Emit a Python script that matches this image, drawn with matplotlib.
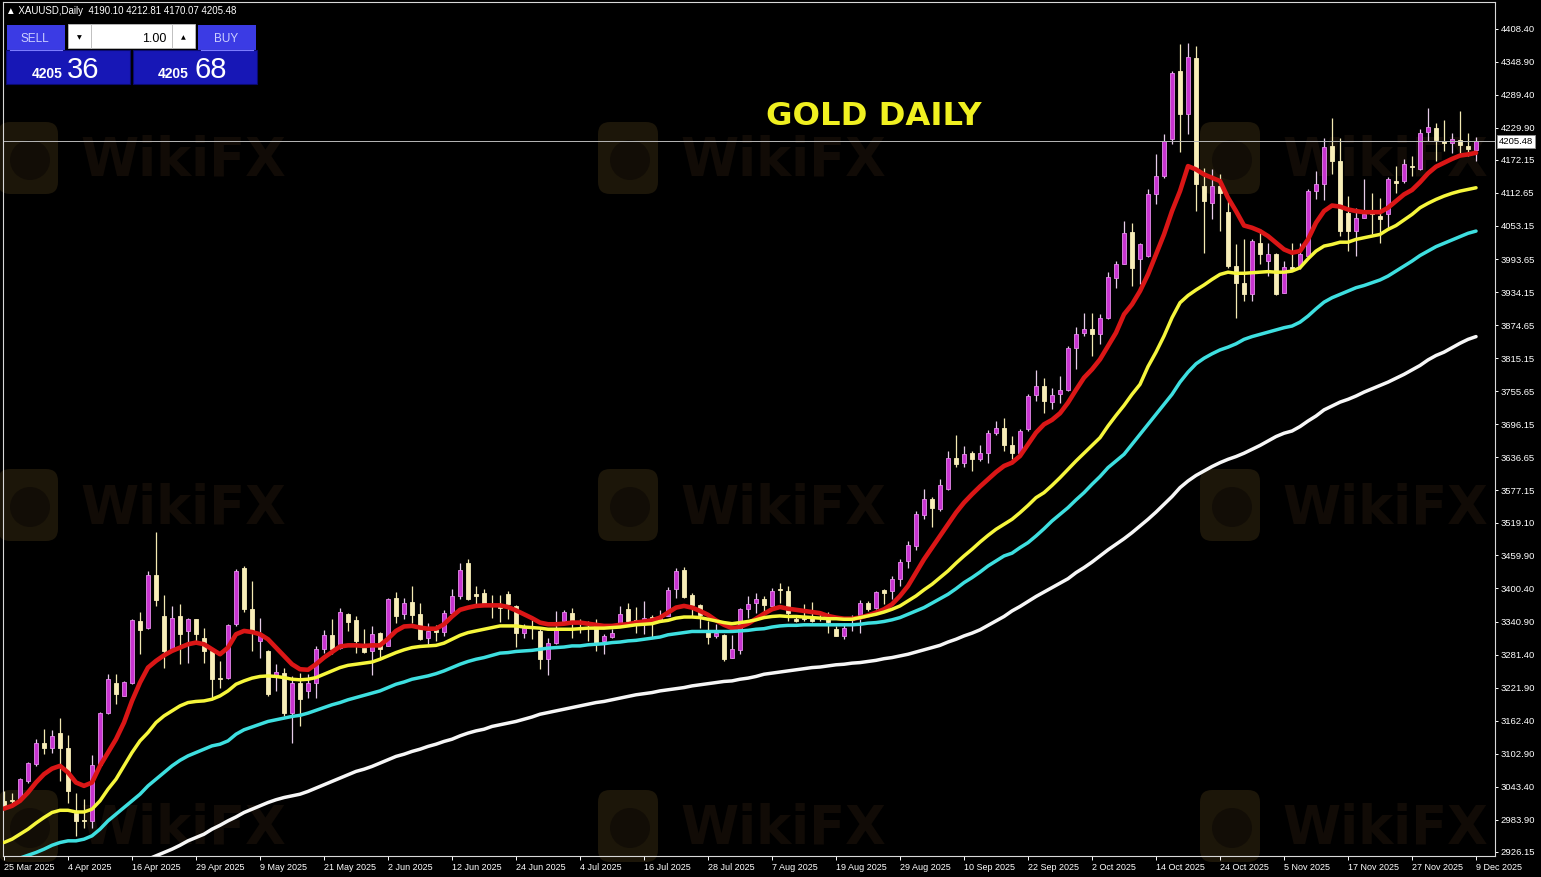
import numpy as np
import matplotlib
matplotlib.use("Agg")
import matplotlib.pyplot as plt
from matplotlib.patches import FancyBboxPatch, Rectangle, Circle
import matplotlib.transforms as mtransforms

# ---------------- data ----------------
opens = [3018, 3018.5, 3021, 3054, 3084, 3123, 3114, 3140, 3114, 2997,
         2983, 2982, 3082, 3176, 3230, 3207, 3230, 3342, 3330, 3424,
         3350, 3290, 3350, 3324, 3345, 3312, 3288, 3240, 3240, 3336,
         3438, 3364, 3306, 3288, 3243, 3249, 3177, 3231, 3216, 3230,
         3291, 3316, 3294, 3354, 3344, 3294, 3288, 3320, 3297, 3384,
         3354, 3376, 3354, 3312, 3326, 3322, 3357, 3386, 3447, 3390,
         3392, 3372, 3372, 3390, 3369, 3321, 3333, 3323, 3273, 3303,
         3341, 3357, 3342, 3339, 3339, 3305, 3313, 3336, 3363, 3343,
         3337, 3349, 3341, 3351, 3399, 3433, 3389, 3371, 3323, 3315,
         3317, 3275, 3289, 3363, 3374, 3381, 3369, 3400, 3396, 3346,
         3348, 3348, 3349, 3346, 3328, 3314, 3344, 3352, 3374, 3366,
         3398, 3396, 3417, 3450, 3477, 3532, 3562, 3544, 3580, 3636,
         3626, 3645, 3633, 3644, 3681, 3690, 3658, 3644, 3687, 3748,
         3765, 3736, 3751, 3757, 3834, 3861, 3867, 3858, 3888, 3960,
         3985, 4042, 3994, 4000, 4111, 4143, 4209, 4333, 4255, 4356,
         4125, 4095, 4126, 4078, 3982, 3951, 3931, 4023, 3990, 4002,
         3933, 3979, 3981, 4000, 4116, 4128, 4198, 4171, 4077, 4044,
         4068, 4077, 4072, 4074, 4135, 4134, 4162, 4156, 4222, 4230,
         4206, 4203, 4208, 4198, 4190.10]
highs = [3036, 3032, 3060, 3088, 3129, 3148, 3146, 3168, 3136, 3033,
         3022, 3100, 3178, 3246, 3246, 3234, 3345, 3358, 3432, 3502,
         3388, 3368, 3372, 3348, 3346, 3330, 3290, 3270, 3336, 3435,
         3441, 3414, 3348, 3290, 3264, 3258, 3243, 3249, 3246, 3296,
         3326, 3346, 3366, 3357, 3350, 3327, 3332, 3322, 3384, 3394,
         3384, 3405, 3375, 3339, 3334, 3362, 3399, 3447, 3453, 3405,
         3400, 3388, 3388, 3396, 3371, 3336, 3343, 3330, 3311, 3360,
         3361, 3366, 3345, 3342, 3345, 3318, 3327, 3369, 3375, 3367,
         3377, 3353, 3361, 3403, 3437, 3439, 3393, 3373, 3341, 3336,
         3319, 3317, 3365, 3387, 3393, 3386, 3402, 3410, 3405, 3351,
         3372, 3376, 3357, 3358, 3333, 3338, 3352, 3380, 3378, 3396,
         3399, 3423, 3454, 3486, 3540, 3579, 3566, 3598, 3648, 3676,
         3657, 3648, 3658, 3686, 3702, 3708, 3675, 3687, 3750, 3793,
         3780, 3762, 3783, 3837, 3871, 3897, 3897, 3894, 3970, 3991,
         4062, 4059, 4023, 4119, 4182, 4219, 4333, 4381, 4383, 4377,
         4158, 4155, 4146, 4098, 4021, 4030, 4029, 4047, 4023, 4004,
         3990, 4022, 4023, 4119, 4152, 4212, 4248, 4212, 4107, 4086,
         4137, 4112, 4104, 4142, 4161, 4173, 4179, 4228, 4266, 4238,
         4244, 4221, 4260, 4220, 4212.81]
lows = [3003, 3009, 3018, 3051, 3081, 3102, 3105, 3054, 3015, 2955,
        2970, 2970, 3081, 3174, 3192, 3207, 3228, 3282, 3327, 3368,
        3258, 3288, 3264, 3267, 3305, 3266, 3201, 3222, 3238, 3333,
        3358, 3288, 3276, 3207, 3216, 3171, 3122, 3153, 3204, 3204,
        3285, 3282, 3291, 3324, 3285, 3285, 3244, 3276, 3297, 3339,
        3345, 3339, 3307, 3300, 3306, 3315, 3354, 3381, 3380, 3372,
        3369, 3348, 3340, 3345, 3295, 3311, 3309, 3255, 3245, 3301,
        3336, 3311, 3321, 3306, 3287, 3283, 3312, 3336, 3336, 3321,
        3318, 3313, 3341, 3351, 3384, 3383, 3351, 3330, 3301, 3311,
        3269, 3275, 3282, 3347, 3357, 3357, 3366, 3374, 3342, 3340,
        3342, 3340, 3342, 3321, 3314, 3310, 3324, 3321, 3360, 3364,
        3372, 3381, 3404, 3438, 3470, 3526, 3512, 3540, 3578, 3620,
        3620, 3612, 3630, 3627, 3676, 3648, 3634, 3642, 3684, 3738,
        3717, 3723, 3735, 3756, 3795, 3855, 3819, 3840, 3885, 3942,
        3984, 3945, 3949, 3997, 4092, 4140, 4200, 4186, 4218, 4081,
        4004, 4065, 4044, 3978, 3888, 3918, 3918, 3984, 3964, 3928,
        3932, 3974, 3975, 3999, 4101, 4100, 4147, 4035, 4008, 3999,
        4068, 4038, 4023, 4046, 4113, 4131, 4143, 4154, 4206, 4170,
        4188, 4184, 4185, 4180, 4170.07]
closes = [3010, 3018, 3057, 3086, 3123, 3114, 3134, 3114, 3036, 2982,
          2981, 3082, 3176, 3237, 3210, 3232, 3344, 3326, 3424, 3380,
          3288, 3348, 3318, 3345, 3318, 3288, 3237, 3237, 3334, 3432,
          3363, 3321, 3318, 3210, 3250, 3177, 3231, 3201, 3230, 3291,
          3316, 3291, 3358, 3340, 3306, 3286, 3318, 3291, 3382, 3351,
          3374, 3352, 3309, 3324, 3322, 3356, 3386, 3434, 3382, 3387,
          3374, 3369, 3366, 3372, 3321, 3329, 3331, 3273, 3303, 3325,
          3358, 3341, 3340, 3336, 3303, 3315, 3321, 3355, 3341, 3336,
          3347, 3341, 3351, 3397, 3432, 3385, 3371, 3353, 3313, 3321,
          3273, 3291, 3363, 3373, 3381, 3370, 3396, 3398, 3357, 3342,
          3345, 3342, 3347, 3340, 3315, 3330, 3346, 3374, 3364, 3394,
          3393, 3417, 3448, 3478, 3534, 3561, 3546, 3586, 3636, 3624,
          3642, 3633, 3644, 3680, 3690, 3659, 3644, 3684, 3747, 3765,
          3738, 3748, 3758, 3834, 3859, 3867, 3858, 3888, 3961, 3985,
          4041, 3978, 4020, 4111, 4143, 4207, 4329, 4254, 4357, 4128,
          4098, 4126, 4113, 3981, 3951, 3930, 4026, 4002, 4003, 3930,
          3979, 3975, 4002, 4116, 4128, 4195, 4171, 4044, 4045, 4068,
          4074, 4075, 4066, 4137, 4131, 4164, 4160, 4221, 4231, 4208,
          4203, 4209, 4199, 4192, 4205.48]

ma_red = [3004, 3009, 3018, 3033, 3051, 3066, 3076, 3081, 3069, 3051,
          3045, 3051, 3081, 3105, 3129, 3159, 3198, 3231, 3258, 3270,
          3280, 3288, 3294, 3300, 3303, 3300, 3291, 3282, 3294, 3318,
          3324, 3322, 3318, 3309, 3294, 3279, 3264, 3255, 3254, 3264,
          3276, 3286, 3296, 3298, 3298, 3297, 3298, 3298, 3310, 3324,
          3332, 3333, 3330, 3328, 3328, 3336, 3350, 3362, 3366, 3369,
          3370, 3370, 3370, 3367, 3361, 3354, 3347, 3339, 3336, 3336,
          3337, 3339, 3339, 3337, 3335, 3333, 3333, 3335, 3336, 3339,
          3341, 3343, 3348, 3357, 3366, 3369, 3366, 3360, 3353, 3343,
          3335, 3329, 3331, 3337, 3346, 3355, 3363, 3367, 3364, 3362,
          3360, 3358, 3356, 3351, 3348, 3346, 3346, 3348, 3352, 3357,
          3363, 3372, 3387, 3405, 3429, 3453, 3474, 3495, 3516, 3537,
          3555, 3570, 3584, 3597, 3610, 3621, 3627, 3639, 3660, 3681,
          3696, 3704, 3716, 3735, 3758, 3780, 3795, 3813, 3837, 3861,
          3894, 3912, 3936, 3966, 4002, 4038, 4080, 4116, 4161, 4155,
          4146, 4140, 4134, 4104, 4080, 4054, 4050, 4044, 4035, 4023,
          4011, 4005, 4008, 4029, 4059, 4080, 4090, 4088, 4083, 4080,
          4078, 4078, 4078, 4086, 4098, 4110, 4118, 4132, 4148, 4160,
          4167, 4174, 4180, 4182, 4185]
ma_yellow = [2943, 2949, 2958, 2967, 2978, 2988, 2997, 3001, 3001, 2998,
             2998, 3003, 3018, 3039, 3057, 3081, 3105, 3126, 3141, 3159,
             3171, 3180, 3189, 3195, 3197, 3198, 3201, 3207, 3216, 3228,
             3234, 3239, 3242, 3243, 3242, 3240, 3237, 3236, 3237, 3240,
             3246, 3252, 3258, 3262, 3264, 3266, 3268, 3273, 3279, 3285,
             3290, 3294, 3296, 3297, 3298, 3302, 3309, 3316, 3321, 3324,
             3327, 3330, 3333, 3333, 3333, 3331, 3330, 3329, 3327, 3327,
             3327, 3327, 3328, 3329, 3329, 3329, 3330, 3331, 3333, 3335,
             3336, 3337, 3341, 3343, 3347, 3349, 3349, 3348, 3345, 3342,
             3339, 3337, 3339, 3341, 3344, 3348, 3350, 3351, 3350, 3350,
             3349, 3348, 3347, 3346, 3346, 3345, 3345, 3348, 3351, 3354,
             3358, 3363, 3369, 3378, 3387, 3398, 3408, 3420, 3432, 3446,
             3459, 3471, 3484, 3496, 3507, 3516, 3525, 3537, 3550, 3564,
             3573, 3586, 3600, 3615, 3630, 3644, 3658, 3672, 3693, 3712,
             3730, 3750, 3768, 3800, 3826, 3855, 3888, 3915, 3928, 3938,
             3947, 3957, 3966, 3970, 3968, 3968, 3969, 3970, 3971, 3970,
             3970, 3972, 3978, 3994, 4008, 4017, 4020, 4024, 4024, 4029,
             4032, 4035, 4038, 4047, 4054, 4064, 4074, 4086, 4094, 4101,
             4107, 4112, 4116, 4119, 4122]
ma_cyan = [2905, 2910, 2915, 2920, 2925, 2931, 2938, 2943, 2946, 2946,
           2949, 2955, 2967, 2982, 2994, 3006, 3018, 3030, 3045, 3057,
           3069, 3081, 3091, 3099, 3105, 3111, 3117, 3120, 3126, 3138,
           3146, 3151, 3156, 3161, 3164, 3167, 3170, 3172, 3176, 3181,
           3186, 3191, 3195, 3200, 3204, 3208, 3212, 3216, 3222, 3228,
           3232, 3237, 3240, 3243, 3247, 3252, 3258, 3264, 3269, 3273,
           3276, 3280, 3284, 3285, 3287, 3288, 3289, 3291, 3293, 3294,
           3295, 3297, 3297, 3299, 3300, 3301, 3303, 3304, 3306, 3307,
           3309, 3311, 3313, 3317, 3319, 3321, 3323, 3323, 3323, 3323,
           3323, 3323, 3324, 3325, 3327, 3328, 3331, 3333, 3334, 3334,
           3335, 3335, 3335, 3335, 3335, 3335, 3335, 3336, 3338, 3339,
           3341, 3344, 3348, 3354, 3360, 3366, 3374, 3382, 3390, 3400,
           3411, 3420, 3430, 3441, 3450, 3459, 3464, 3474, 3483, 3495,
           3508, 3522, 3534, 3546, 3560, 3573, 3588, 3602, 3618, 3630,
           3642, 3660, 3678, 3696, 3714, 3732, 3750, 3772, 3790, 3805,
           3815, 3823, 3830, 3835, 3841, 3849, 3854, 3858, 3862, 3866,
           3870, 3873, 3880, 3891, 3904, 3916, 3924, 3930, 3936, 3942,
           3946, 3951, 3956, 3963, 3972, 3981, 3990, 4000, 4008, 4016,
           4022, 4028, 4034, 4040, 4044]
nan = float("nan")
ma_white = [nan] * 17 + [
    2908, 2913, 2919,
    2925, 2931, 2938, 2946, 2952, 2958, 2967, 2974, 2982, 2989,
    2997, 3003, 3009, 3015, 3020, 3024, 3027, 3030, 3035, 3041,
    3047, 3053, 3059, 3065, 3071, 3075, 3080, 3086, 3092, 3098,
    3102, 3107, 3111, 3116, 3120, 3125, 3129, 3135, 3140, 3144,
    3147, 3152, 3155, 3158, 3161, 3165, 3169, 3174, 3177, 3180,
    3183, 3186, 3189, 3192, 3195, 3197, 3200, 3203, 3206, 3209,
    3211, 3213, 3216, 3218, 3220, 3222, 3225, 3227, 3229, 3231,
    3233, 3234, 3237, 3239, 3242, 3246, 3248, 3250, 3252, 3254,
    3256, 3258, 3259, 3261, 3263, 3264, 3266, 3267, 3269, 3271,
    3274, 3276, 3279, 3282, 3286, 3290, 3294, 3298, 3304, 3309,
    3315, 3320, 3326, 3334, 3342, 3350, 3360, 3368, 3377, 3386,
    3394, 3402, 3410, 3418, 3429, 3438, 3448, 3459, 3470, 3480,
    3490, 3501, 3513, 3525, 3538, 3552, 3566, 3582, 3594, 3604,
    3612, 3620, 3627, 3633, 3638, 3644, 3651, 3658, 3666, 3674,
    3680, 3684, 3692, 3702, 3711, 3722, 3729, 3736, 3741, 3747,
    3754, 3760, 3766, 3772, 3779, 3786, 3794, 3802, 3812, 3820,
    3826, 3834, 3842, 3849, 3854]

date_labels = ["25 Mar 2025", "4 Apr 2025", "16 Apr 2025", "29 Apr 2025",
               "9 May 2025", "21 May 2025", "2 Jun 2025", "12 Jun 2025",
               "24 Jun 2025", "4 Jul 2025", "16 Jul 2025", "28 Jul 2025",
               "7 Aug 2025", "19 Aug 2025", "29 Aug 2025", "10 Sep 2025",
               "22 Sep 2025", "2 Oct 2025", "14 Oct 2025", "24 Oct 2025",
               "5 Nov 2025", "17 Nov 2025", "27 Nov 2025", "9 Dec 2025"]
bars_per_label = 8
price_ticks = [4408.40, 4348.90, 4289.40, 4229.90, 4172.15, 4112.65, 4053.15,
               3993.65, 3934.15, 3874.65, 3815.15, 3755.65, 3696.15, 3636.65,
               3577.15, 3519.10, 3459.90, 3400.40, 3340.90, 3281.40, 3221.90,
               3162.40, 3102.90, 3043.40, 2983.90, 2926.15]
symbol_text = "XAUUSD,Daily"
chart_title = "GOLD DAILY"
sell_big, buy_big = "36", "68"
price_head = "4205"
lot_text = "1.00"

# ---------------- figure ----------------
plt.rcParams["font.family"] = ["Liberation Sans", "DejaVu Sans"]
W, H = 1541, 877
fig = plt.figure(figsize=(W / 100, H / 100), dpi=100, facecolor="black")

# background layer (faint watermark) in pixel coordinates
ax_bg = fig.add_axes([0, 0, 1, 1], zorder=0)
ax_bg.set_xlim(0, W)
ax_bg.set_ylim(H, 0)
ax_bg.axis("off")
ax_bg.set_facecolor("black")
for cy in (158, 505, 826):
    for cx in (28, 628, 1230):
        ax_bg.add_patch(FancyBboxPatch((cx - 30, cy - 36), 60, 72,
                                       boxstyle="round,pad=0,rounding_size=12",
                                       facecolor="#1c1609", edgecolor="none"))
        ax_bg.add_patch(Circle((cx + 2, cy + 2), 20, facecolor="#120d06",
                               edgecolor="none"))
        ax_bg.text(cx + 52, cy + 18, "WikiFX", fontsize=38, fontweight="bold",
                   color="#110b06", family="DejaVu Sans")

# main chart axes
left, right = 3 / W, 1495.3 / W
bottom, top = (H - 856) / H, (H - 2) / H
ax = fig.add_axes([left, bottom, right - left, top - bottom], zorder=1)
ax.set_facecolor("none")

n = len(opens)
x = np.arange(n)
o = np.array(opens, float)
h = np.array(highs, float)
l = np.array(lows, float)
c = np.array(closes, float)
bull = c >= o

# wicks
ax.vlines(x[bull], l[bull], h[bull], colors="#E6CCE8", linewidth=0.9, zorder=1.5)
ax.vlines(x[~bull], l[~bull], h[~bull], colors="#F3E9B2", linewidth=0.9, zorder=1.5)
# bodies
body_lo = np.minimum(o, c)
body_h = np.maximum(np.abs(c - o), 1.3)
ax.bar(x[bull], body_h[bull], bottom=body_lo[bull], width=0.62,
       color="#C834D0", edgecolor="#E58BEB", linewidth=0.6, zorder=2)
ax.bar(x[~bull], body_h[~bull], bottom=body_lo[~bull], width=0.62,
       color="#F8EEB8", edgecolor="#F8EEB8", linewidth=0.6, zorder=2)

# moving averages
ax.plot(x, ma_red, color="#DA1616", linewidth=3.3, solid_capstyle="round", zorder=3)
ax.plot(x, ma_yellow, color="#F6F63C", linewidth=2.5, solid_capstyle="round", zorder=4)
ax.plot(x, ma_cyan, color="#3EDFE0", linewidth=2.5, solid_capstyle="round", zorder=5)
ax.plot(x, ma_white, color="#F7F7F7", linewidth=2.5, solid_capstyle="round", zorder=6)

# current price line
last = closes[-1]
ax.axhline(last, color="#B8B8B8", linewidth=0.7, zorder=2.5)

ax.set_xlim(-0.125, 186.41)
ax.set_ylim(2918.7, 4456.5)

for s in ax.spines.values():
    s.set_color("#D8D8D8")
    s.set_linewidth(0.8)

ax.yaxis.tick_right()
ax.set_yticks(price_ticks)
ax.set_yticklabels([f"{v:.2f}" for v in price_ticks])
ax.tick_params(axis="y", colors="#FFFFFF", length=2.5, width=0.7, pad=1.5,
               labelsize=6.8, labelcolor="white")
ax.set_xticks(x[::bars_per_label])
ax.set_xticklabels(date_labels, ha="left")
ax.tick_params(axis="x", colors="#FFFFFF", length=3, width=0.7, pad=2,
               labelsize=6.5, labelcolor="white")

# current price label on the axis
trans = mtransforms.blended_transform_factory(ax.transAxes, ax.transData)
trans = trans + mtransforms.ScaledTranslation(2.5 / 72, 0, fig.dpi_scale_trans)
ax.text(1.0, last, f"{last:.2f}", transform=trans, ha="left", va="center",
        fontsize=6.8, color="black", clip_on=False, zorder=10,
        bbox=dict(boxstyle="square,pad=0.18", facecolor="white",
                  edgecolor="#909090", linewidth=0.6))

# foreground layer (header, trade panel, title) in pixel coordinates
ax_fg = fig.add_axes([0, 0, 1, 1], zorder=3)
ax_fg.set_xlim(0, W)
ax_fg.set_ylim(H, 0)
ax_fg.axis("off")
ax_fg.set_facecolor("none")

head = "\u25B2 " + symbol_text + "  " + " ".join(
    f"{v:.2f}" for v in (opens[-1], highs[-1], lows[-1], closes[-1]))
ax_fg.text(6, 14, head, fontsize=7, color="white", va="baseline",
           family=["Liberation Sans", "DejaVu Sans"])


def box(x0, y0, x1, y1, fc, ec=None, lw=0.0):
    ax_fg.add_patch(Rectangle((x0, y0), x1 - x0, y1 - y0, facecolor=fc,
                              edgecolor=ec if ec else fc, linewidth=lw))


box(7, 25, 65, 50, "#3B3BE4")
box(198, 25, 256, 50, "#3B3BE4")
box(6, 50, 130, 84, "#1717B6", "#0A0A70", 0.8)
box(133, 50, 257, 84, "#1717B6", "#0A0A70", 0.8)
box(68, 24, 91, 48, "white", "#BDBDBD", 0.6)
box(91, 24, 172, 48, "white", "#BDBDBD", 0.6)
box(172, 24, 195, 48, "white", "#BDBDBD", 0.6)
ax_fg.plot([10, 62], [49.5, 49.5], color="#7C7CFF", linewidth=0.8)
ax_fg.plot([201, 253], [49.5, 49.5], color="#7C7CFF", linewidth=0.8)
ax_fg.text(35, 41.5, "SELL", fontsize=8.5, color="#CDD0FF", ha="center", va="baseline")
ax_fg.text(226, 41.5, "BUY", fontsize=8.5, color="#CDD0FF", ha="center", va="baseline")
ax_fg.text(166, 41.5, lot_text, fontsize=9, color="black", ha="right", va="baseline")
ax_fg.text(79.5, 39, "\u25BC", fontsize=4.5, color="black", ha="center",
           va="baseline", family="DejaVu Sans")
ax_fg.text(183.5, 39, "\u25B2", fontsize=4.5, color="black", ha="center",
           va="baseline", family="DejaVu Sans")
ax_fg.text(47, 78, price_head, fontsize=10, fontweight="bold", color="white",
           ha="center", va="baseline")
ax_fg.text(67, 78, sell_big, fontsize=21, color="white", ha="left", va="baseline")
ax_fg.text(173, 78, price_head, fontsize=10, fontweight="bold", color="white",
           ha="center", va="baseline")
ax_fg.text(195, 78, buy_big, fontsize=21, color="white", ha="left", va="baseline")

ax_fg.text(873.5, 125, chart_title, fontsize=23.2, fontweight="bold",
           color="#F0F020", ha="center", va="baseline", family="DejaVu Sans")

fig.savefig("out.png", dpi=100, facecolor="black")
